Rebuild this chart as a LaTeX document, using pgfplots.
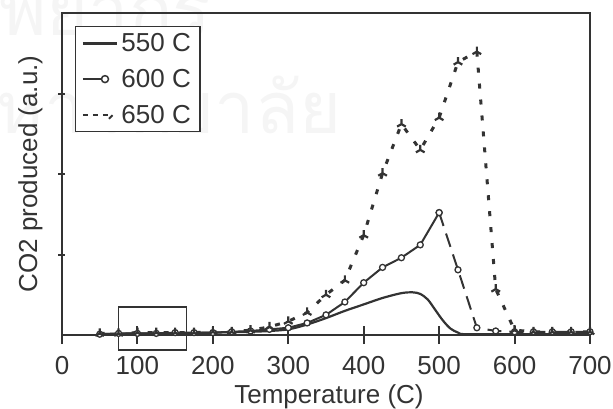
\documentclass[border=0pt]{standalone}
\usepackage{fontspec}
\setmainfont{Liberation Sans}
\newfontfamily\thaifont[Script=Thai]{Loma}
\usepackage{pgfplots}
\usepackage{pgfplotstable}
\pgfplotsset{compat=1.18}
\usetikzlibrary{plotmarks}
\definecolor{ink}{rgb}{0.2,0.2,0.2}

\pgfplotstableread{
T y
50 0.01
100 0.02
150 0.02
200 0.03
250 0.04
275 0.05
300 0.07
325 0.13
350 0.21
375 0.30
400 0.38
425 0.46
450 0.52
465 0.53
475 0.51
485 0.44
495 0.31
505 0.18
515 0.08
525 0.03
535 0.01
600 0.01
700 0.01
}\tblA

\pgfplotstableread{
T y
50 0.01
75 0.02
100 0.02
125 0.02
150 0.03
175 0.03
200 0.03
225 0.04
250 0.05
275 0.07
300 0.09
325 0.15
350 0.25
375 0.41
400 0.65
425 0.84
450 0.96
475 1.12
500 1.52
}\tblBa

\pgfplotstableread{
T y
500 1.52
525 0.81
550 0.09
575 0.05
600 0.04
625 0.04
650 0.04
675 0.04
700 0.04
}\tblBb

\pgfplotstableread{
T y
50 0.02
75 0.02
100 0.03
125 0.03
150 0.03
175 0.03
200 0.04
225 0.04
250 0.06
275 0.10
300 0.17
325 0.28
350 0.50
375 0.68
400 1.24
425 2.01
450 2.62
475 2.30
500 2.70
525 3.39
550 3.52
575 0.57
600 0.06
625 0.04
650 0.04
675 0.04
700 0.04
}\tblC

\begin{document}
\begin{tikzpicture}
\useasboundingbox (0pt,0pt) rectangle (613pt,408pt);
% faint watermark
\node[anchor=base east, text=black!4, font=\thaifont\fontsize{72}{72}\selectfont] at (215pt,372pt) {ศูนย์วิทยทรัพยากร};
\node[anchor=base east, text=black!4, font=\thaifont\fontsize{72}{72}\selectfont] at (345pt,275pt) {จุฬาลงกรณ์มหาวิทยาลัย};
\begin{axis}[
  at={(62pt,73pt)}, anchor=south west,
  width=528pt, height=322pt, scale only axis,
  xmin=0, xmax=700, ymin=0, ymax=4,
  clip=false,
  font=\fontsize{26}{30}\selectfont,
  /pgf/number format/assume math mode=true,
  axis line style={ink, line width=2pt},
  xtick={0,100,...,700},
  ytick={1,2,3},
  yticklabels={},
  xtick pos=bottom, ytick pos=left,
  tick align=center,
  major tick length=18pt,
  ytick style={/pgfplots/major tick length=7pt},
  tick style={ink, line width=2pt},
  xticklabel style={anchor=base, yshift=-30pt, text=ink},
  xlabel={Temperature (C)},
  ylabel={CO2 produced (a.u.)},
  xlabel style={at={(axis description cs:0.5,0)}, anchor=base, yshift=-68pt, xshift=3pt, text=ink},
  ylabel style={at={(axis description cs:-0.047,0.5)}, anchor=base, text=ink},
  legend style={at={(axis description cs:0.0246,0.96)}, anchor=north west,
    draw=ink, line width=1.5pt, fill=white, text=ink,
    font=\fontsize{26}{26}\selectfont, inner xsep=6pt, inner ysep=5pt,
    row sep=12pt, nodes={inner xsep=3pt}},
  legend cell align=left,
]
\addplot[ink, line width=2.2pt, smooth,
  legend image code/.code={\draw[ink, line width=2.2pt] (0pt,0pt) -- (34pt,0pt);}]
  table[x=T, y=y] {\tblA};
\addlegendentry{550 C}
\addplot[ink, line width=2pt, mark=*, mark size=3pt,
  mark options={fill=white, line width=1.3pt, solid},
  legend image code/.code={\draw[ink, line width=2pt] (0pt,0pt) -- (18pt,0pt);
     \draw[ink, line width=1.5pt, fill=white] (22pt,0pt) circle (3.5pt);
     \path (34pt,0pt);}]
  table[x=T, y=y] {\tblBa};
\addlegendentry{600 C}
\addplot[ink, line width=2pt, dash pattern=on 14pt off 8pt, mark=*, mark size=3pt,
  mark options={fill=white, line width=1.3pt, solid}, forget plot]
  table[x=T, y=y] {\tblBb};
\addplot[ink, line width=3pt, dash pattern=on 5pt off 11pt, mark=Mercedes star, mark size=5pt,
  mark options={line width=2.2pt, solid},
  legend image code/.code={\draw[ink, line width=2.5pt, dash pattern=on 5pt off 5pt] (0pt,0pt) -- (18pt,0pt);
     \draw[ink, line width=2pt] (20pt,0pt) -- (30pt,0pt); \draw[ink, line width=2pt] (26pt,-4pt) -- (30pt,0pt) -- (26pt,4pt);
     \path (34pt,0pt);}]
  table[x=T, y=y] {\tblC};
\addlegendentry{650 C}
\draw[ink, line width=1.6pt] (axis cs:75,-0.19) rectangle (axis cs:165,0.35);
\end{axis}
\end{tikzpicture}
\end{document}
